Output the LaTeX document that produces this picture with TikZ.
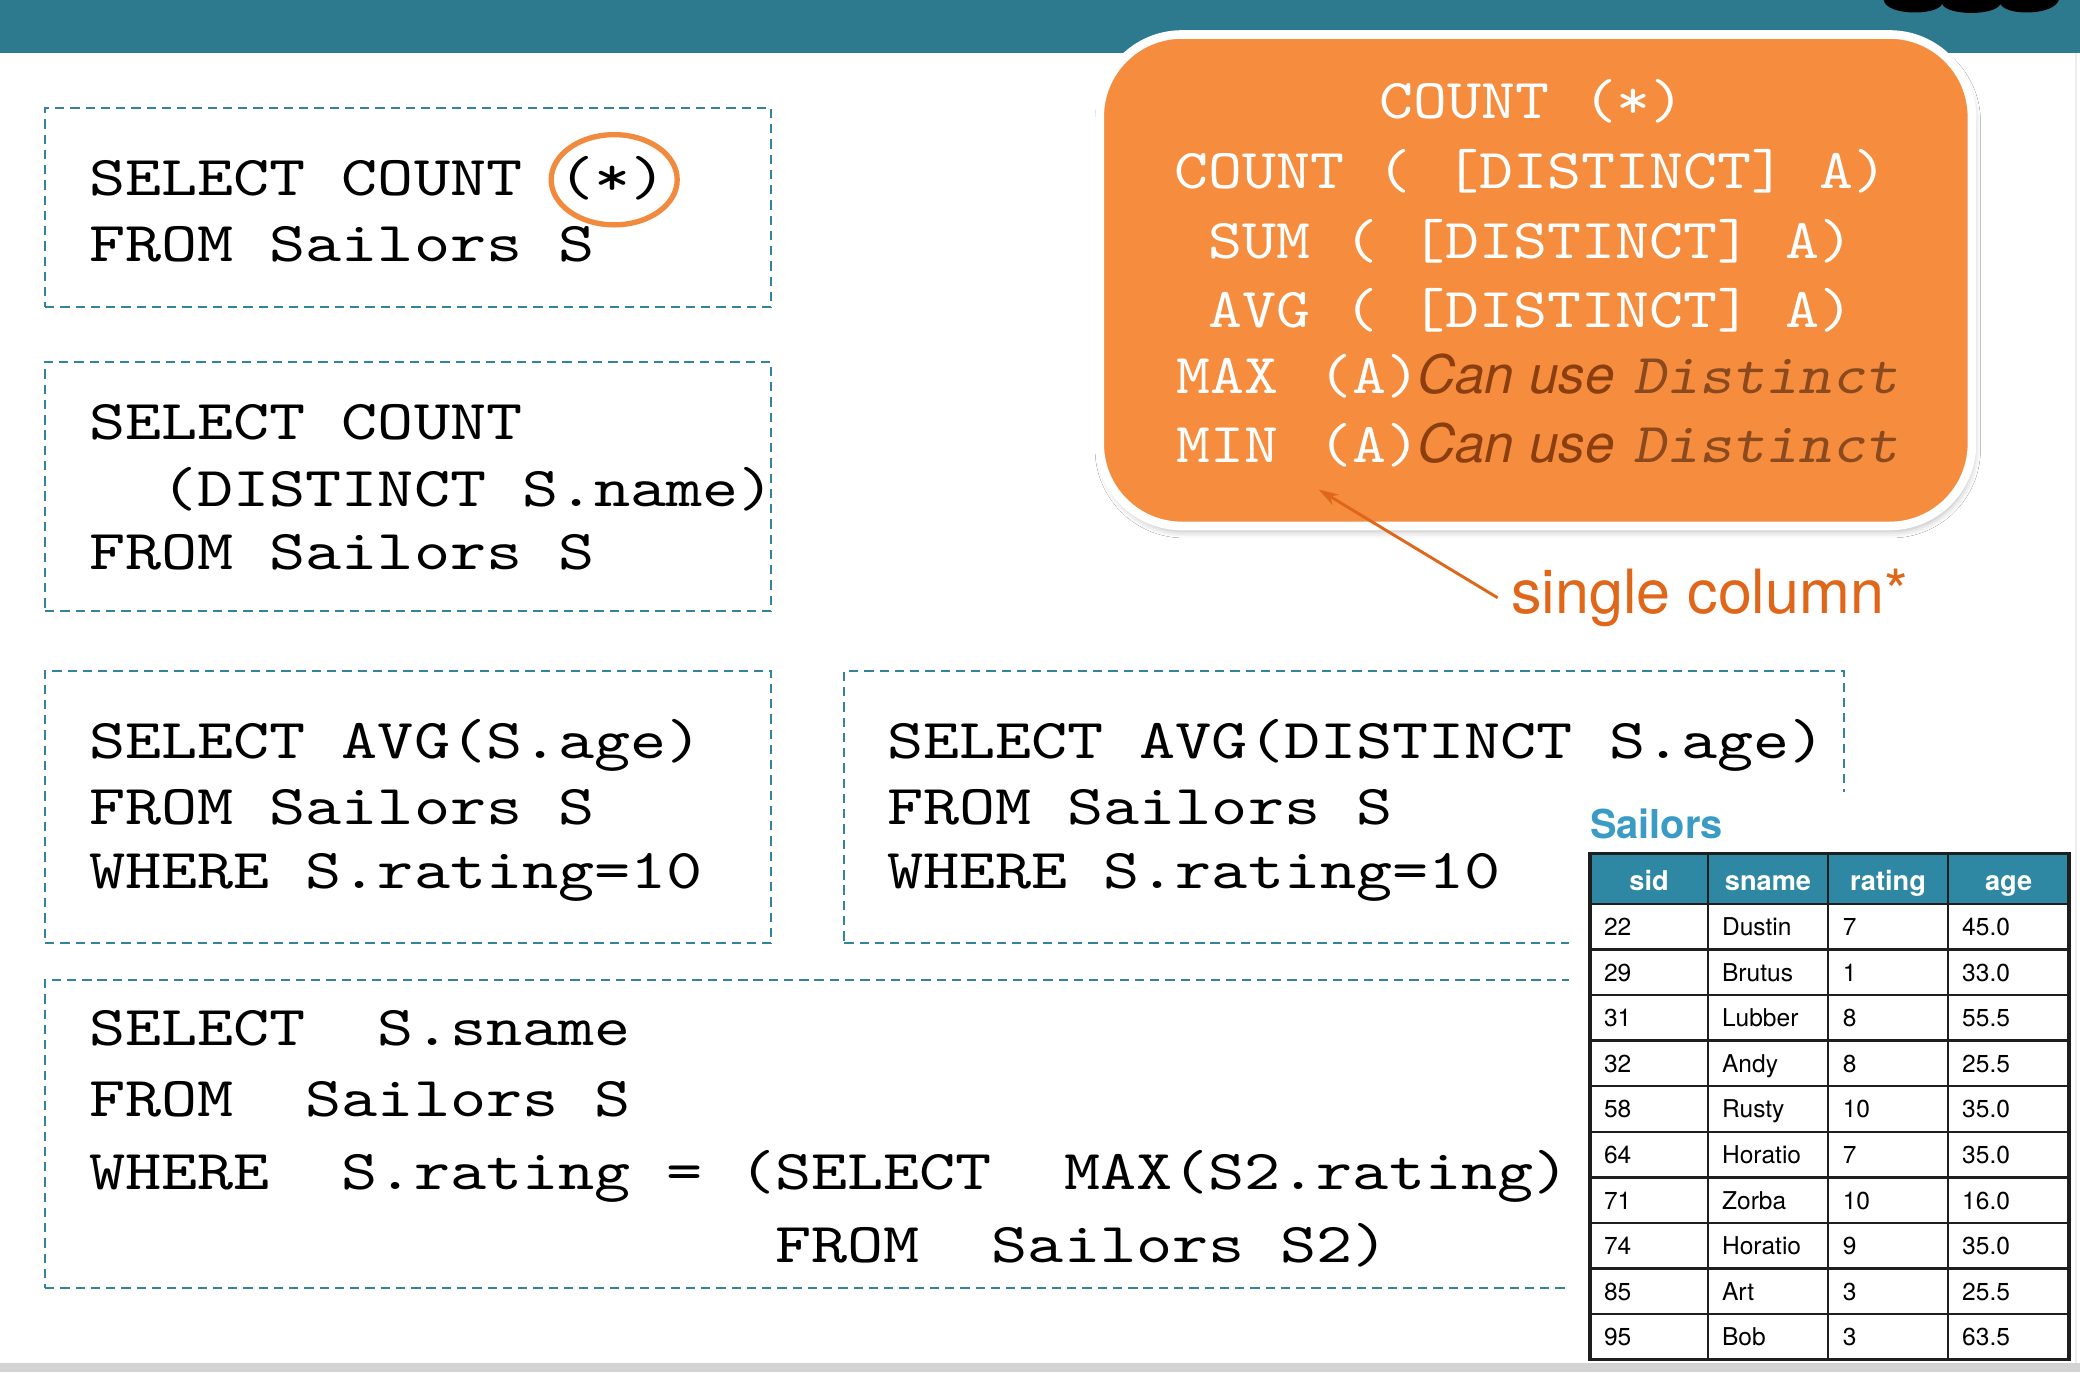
\documentclass[tikz,border=0pt]{standalone}
\usepackage{fontspec}
\usetikzlibrary{arrows.meta,shapes.geometric,shadows.blur}
\newfontfamily\codefont{lmmono10-regular.otf}[FakeStretch=1.22]
\newfontfamily\aggfont{lmmono10-regular.otf}[FakeStretch=1.147]
\newfontfamily\distfont{lmmonoslant10-regular.otf}[FakeStretch=1.12]
\newfontfamily\helv{TeX Gyre Heros}
\definecolor{barteal}{HTML}{2D7A8E}
\definecolor{dashteal}{HTML}{3282A0}
\definecolor{aggorange}{HTML}{F58C3E}
\definecolor{ringorange}{HTML}{F28A3E}
\definecolor{canbrown}{HTML}{8B3F10}
\definecolor{distbrown}{HTML}{8A4A1E}
\definecolor{notered}{HTML}{E0661A}
\definecolor{headteal}{HTML}{2E88A3}
\definecolor{titleteal}{HTML}{3A9CC4}
\definecolor{gridblack}{HTML}{1E1E1E}
\definecolor{stripgray}{HTML}{D3D3D3}
\begin{document}
\begin{tikzpicture}[x=1pt,y=-1pt,
  codebox/.style={draw=dashteal, line width=1.5pt, dash pattern=on 7pt off 4.5pt, inner sep=0pt},
  code/.style={inner sep=0pt, anchor=base west, font=\codefont\fontsize{42.5}{50}\selectfont\frenchspacing},
  aggline/.style={inner sep=0pt, text=white, font=\aggfont\fontsize{42.5}{50}\selectfont\frenchspacing},
  canuse/.style={inner sep=0pt, anchor=base west, text=canbrown, font=\helv\itshape\fontsize{40}{46}\selectfont},
  distinct/.style={inner sep=0pt, anchor=base west, text=distbrown, font=\distfont\fontsize{42.5}{50}\selectfont},
  aggbox/.style={fill=aggorange, draw=white, line width=6.5pt, rounded corners=62pt, inner sep=0pt,
     blur shadow={shadow xshift=1.5pt, shadow yshift=-4pt, shadow opacity=30, shadow blur radius=5pt}},
  ring/.style={draw=ringorange, line width=4pt, ellipse, inner sep=0pt},
  note/.style={inner sep=0pt, anchor=base west, text=notered, font=\helv\fontsize{46}{52}\selectfont},
  notearrow/.style={draw=notered, line width=2.2pt, -{Stealth[length=15pt,width=9pt]}},
  cell/.style={inner sep=0pt, anchor=base west, font=\helv\fontsize{18.5}{22}\selectfont},
  headcell/.style={inner sep=0pt, anchor=base, text=white, font=\helv\bfseries\fontsize{20.5}{24}\selectfont},
  gridline/.style={draw=gridblack, line width=1.8pt},
  tabtitle/.style={inner sep=0pt, anchor=base west, text=titleteal, font=\helv\bfseries\fontsize{30}{34}\selectfont}
]
\useasboundingbox (0,0) rectangle (1568,1034.3);
\fill[white] (0,0) rectangle (1568,1034.3);
% top bar and logo fragment
\fill[barteal] (0,0) rectangle (1568,40);
\fill[black] (1420,0) .. controls (1422,12) and (1460,12) .. (1464,3)
  .. controls (1468,12) and (1504,12) .. (1508,3)
  .. controls (1512,12) and (1548,12) .. (1552,0) -- cycle;
% right edge faint line
\draw[gray!15, line width=1.5pt] (1565,40) -- (1565,1027.5);

% dashed query boxes
\node[codebox, minimum width=547.5pt, minimum height=150pt] (box1) at (307.75,156.5) {};
\node[codebox, minimum width=547.5pt, minimum height=187.5pt] (box2) at (307.75,366.75) {};
\node[codebox, minimum width=547.5pt, minimum height=205.5pt] (box3) at (307.75,608.25) {};
\node[codebox, minimum width=753.5pt, minimum height=205.5pt] (box4) at (1013.25,608.25) {};
\node[codebox, minimum width=1356pt, minimum height=232.5pt] (box5) at (712,854.75) {};

\node[code] (b1l1) at (67,147) {SELECT COUNT (*)};
\node[code] (b1l2) at (67,197) {FROM Sailors S};
\node[code] (b2l1) at (67,331) {SELECT COUNT};
\node[code] (b2l2) at (121.4,381.5) {(DISTINCT S.name)};
\node[code] (b2l3) at (67,429.5) {FROM Sailors S};
\node[code] (b3l1) at (67,571.7) {SELECT AVG(S.age)};
\node[code] (b3l2) at (67,621.4) {FROM Sailors S};
\node[code] (b3l3) at (67,669.7) {WHERE S.rating=10};
\node[code] (b4l1) at (668.5,571.7) {SELECT AVG(DISTINCT S.age)};
\node[code] (b4l2) at (668.5,621.4) {FROM Sailors S};
\node[code] (b4l3) at (668.5,669.7) {WHERE S.rating=10};
\node[code] (b5l1) at (67,788) {SELECT~~S.sname};
\node[code] (b5l2) at (67,842) {FROM~~Sailors S};
\node[code] (b5l3) at (67,897) {WHERE~~S.rating = (SELECT~~MAX(S2.rating)};
\node[code] (b5l4) at (584.2,952) {FROM~~Sailors S2)};

% ring around (*)
\node[ring, minimum width=95pt, minimum height=68pt] (star) at (463,135.5) {};

% table backdrop
\fill[white] (1183,597) rectangle (1563,1027.5);
\node[tabtitle] (ttl) at (1198.5,632) {Sailors};
\fill[headteal] (1198.7,643.3) rectangle (1559.8,681.3);
\node[headcell] (h1) at (1243.15,671) {sid};
\node[headcell] (h2) at (1332.8,671) {sname};
\node[headcell] (h3) at (1423.3,671) {rating};
\node[headcell] (h4) at (1514.2,671) {age};
\foreach \ya in {681.3,715.67,750.04,784.41,818.78,853.15,887.52,921.89,956.26,990.63}
  \draw[gridline] (1198.7,\ya) -- (1559.8,\ya);
\foreach \xa in {1287.6,1378,1468.6}
  \draw[gridline] (\xa,643.3) -- (\xa,1025);
\draw[gridline, line width=2.5pt] (1198.7,643.3) rectangle (1559.8,1025);
\foreach \sa/\sb/\sc/\sd [count=\i] in {22/Dustin/7/45.0,29/Brutus/1/33.0,31/Lubber/8/55.5,32/Andy/8/25.5,58/Rusty/10/35.0,64/Horatio/7/35.0,71/Zorba/10/16.0,74/Horatio/9/35.0,85/Art/3/25.5,95/Bob/3/63.5}{
  \pgfmathsetmacro\yb{681.3+(\i-1)*34.37+24}
  \node[cell] (r\i c1) at (1209,\yb) {\sa};
  \node[cell] (r\i c2) at (1298,\yb) {\sb};
  \node[cell] (r\i c3) at (1389,\yb) {\sc};
  \node[cell] (r\i c4) at (1479,\yb) {\sd};
}

% aggregate operators box
\node[aggbox, minimum width=657.5pt, minimum height=370.5pt] (agg) at (1157.75,211.25) {};
\node[aggline, anchor=base] (agg1) at (1155,89.2) {COUNT (*)};
\node[aggline, anchor=base] (agg2) at (1154,142) {COUNT ( [DISTINCT] A)};
\node[aggline, anchor=base] (agg3) at (1154,194.5) {SUM ( [DISTINCT] A)};
\node[aggline, anchor=base] (agg4) at (1154,246.8) {AVG ( [DISTINCT] A)};
\node[aggline, anchor=base west] (agg5a) at (886.5,297) {MAX};
\node[aggline, anchor=base west] (agg5b) at (994,297) {(A)};
\node[canuse] (agg5c) at (1068,297) {Can use};
\node[distinct] (agg5d) at (1231,297) {Distinct};
\node[aggline, anchor=base west] (agg6a) at (886.5,349) {MIN};
\node[aggline, anchor=base west] (agg6b) at (994,349) {(A)};
\node[canuse] (agg6c) at (1068,349) {Can use};
\node[distinct] (agg6d) at (1231,349) {Distinct};

% note and arrow
\node[note] (sc) at (1139,462.4) {single column*};
\coordinate (sctip) at (994,369);
\draw[notearrow] ([xshift=-10pt]sc.west) -- (sctip);

% bottom strip
\fill[stripgray] (0,1027.5) rectangle (1568,1034.3);
\end{tikzpicture}
\end{document}
